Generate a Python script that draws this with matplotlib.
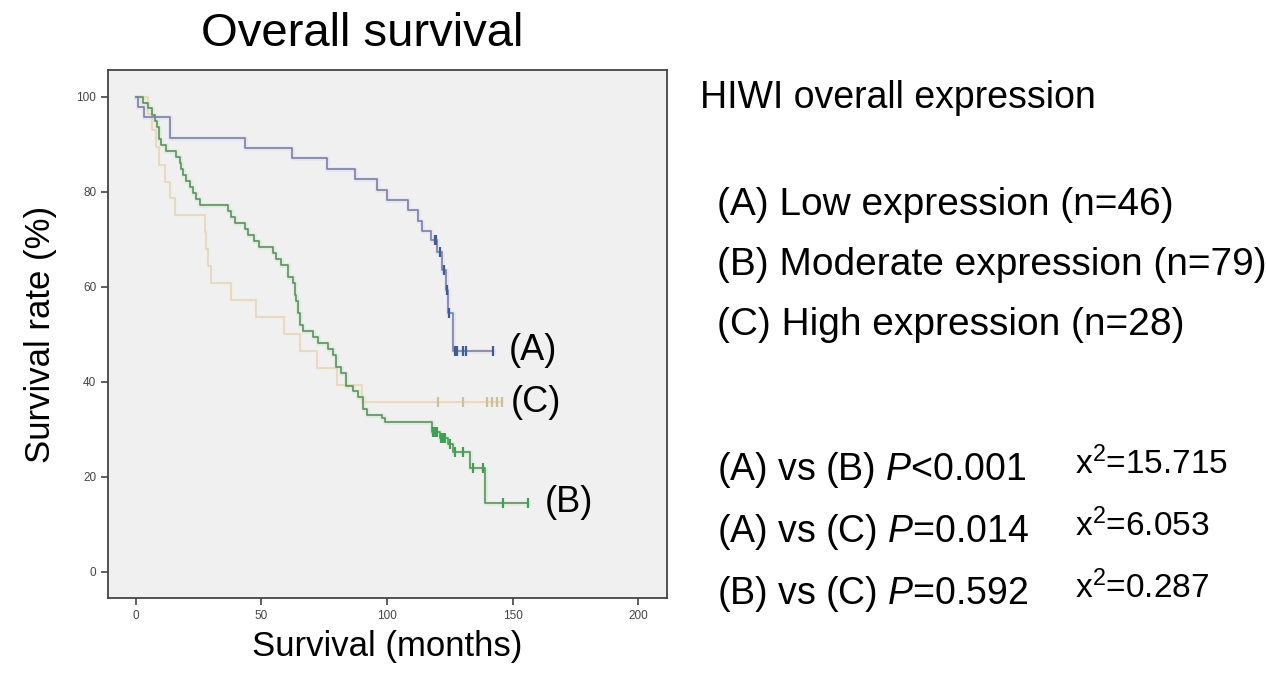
import numpy as np
import matplotlib
matplotlib.use("Agg")
import matplotlib.pyplot as plt

plt.rcParams['font.family'] = ['Liberation Sans', 'DejaVu Sans']
plt.rcParams['mathtext.fontset'] = 'custom'
plt.rcParams['mathtext.rm'] = 'Liberation Sans'
plt.rcParams['mathtext.it'] = 'Liberation Sans:italic'

# Kaplan-Meier steps (months, survival %)
a_times = [0, 1, 3.5, 13.5, 43.4, 62.4, 76, 87.3, 95.9, 100, 108.5, 112.5, 114,
           117.5, 120, 122, 123.5, 124.4, 126.2]
a_surv = [100, 97.8, 95.7, 91.3, 89.1, 87.0, 84.8, 82.6, 80.4, 78.3, 76.1, 73.9, 71.7,
          69.8, 67.4, 63.5, 59.3, 54.4, 46.5]
a_cens = [119, 119.6, 121, 122.7, 123.8, 124.9, 127, 128, 130.2, 131.3, 142.3]

b_times = [0, 3, 5, 6.5, 7.6, 8.5, 9.5, 10.2, 12.2, 16.2, 17.5, 18, 18.8, 20, 21.5, 23,
           24.2, 25.5, 36.8, 38.1, 39.4, 43.4, 44.8, 47, 49.1, 54.7, 56, 58, 60.7, 62.7,
           63.5, 64, 64.7, 65.3, 66.7, 70.6, 72.6, 76.6, 78.6, 79.9, 81.9, 83.9, 86.6,
           88.6, 90.6, 91.9, 97.9, 99.2, 117.8, 121.1, 124.4, 126.4, 133.1, 139.2]
b_surv = [100, 98.7, 97.5, 96.2, 94.9, 93.7, 91.1, 89.9, 88.6, 87.3, 86.1, 84.8, 83.5,
          82.3, 81.0, 79.7, 78.5, 77.2, 75.9, 74.7, 73.4, 72.2, 70.9, 69.6, 68.4, 67.1,
          65.8, 64.6, 62.0, 60.8, 58.2, 56.9, 54.4, 51.9, 50.6, 49.4, 48.1, 46.8, 45.6,
          43.0, 41.8, 39.2, 38.0, 36.7, 34.2, 32.9, 32.3, 31.6, 29.5, 28.1, 27.0, 25.3,
          21.8, 14.5]
b_cens = [118.5, 119.3, 120, 121.5, 122, 122.6, 123.2, 125, 127.1, 130.4, 134.4, 138.4,
          146.3, 156]

c_times = [0, 5, 6.5, 8, 9.5, 11.5, 13.5, 15.5, 27.5, 28.2, 29, 30, 38.1, 48.1, 59,
           65.3, 72, 80, 90]
c_surv = [100, 96.4, 92.9, 89.3, 85.7, 82.1, 78.6, 75, 71.4, 67.9, 64.3, 60.7, 57.1,
          53.6, 50, 46.4, 42.9, 39.3, 35.7]
c_cens = [120.4, 130.4, 139.7, 141.7, 143.7, 145.7]

groups = ["(A)", "(B)", "(C)"]
legend_lines = ["(A) Low expression (n=46)",
                "(B) Moderate expression (n=79)",
                "(C) High expression (n=28)"]
stat_pairs = ["(A) vs (B)", "(A) vs (C)", "(B) vs (C)"]
p_values = ["<0.001", "=0.014", "=0.592"]
chi2_values = ["15.715", "6.053", "0.287"]


def km_curve(ax, times, surv, cens, line_col, halo_col, mark_col):
    t = list(times) + [max(cens)]
    s = list(surv) + [surv[-1]]
    ax.step(t, s, where='post', color=halo_col, lw=3.5, alpha=0.5, zorder=2)
    ax.step(t, s, where='post', color=line_col, lw=1.2, zorder=3)
    idx = np.searchsorted(times, cens, side='right') - 1
    ax.plot(cens, np.array(surv)[idx], ls='none', marker='|', ms=7, mew=1.6,
            color=mark_col, zorder=4)
    return max(cens), surv[-1]


fig = plt.figure(figsize=(12.66, 6.74), dpi=100)
ax = fig.add_axes([0.0853, 0.1128, 0.4416, 0.7834])
ax.set_facecolor('#f0f0f0')

c_end = km_curve(ax, c_times, c_surv, c_cens, '#e3d6bd', '#f5eedf', '#cdbf98')
b_end = km_curve(ax, b_times, b_surv, b_cens, '#5f8f62', '#c9ecc8', '#3f9f52')
a_end = km_curve(ax, a_times, a_surv, a_cens, '#7d80a8', '#dcdcee', '#3d5d9a')

ax.set_xlim(-11, 211.5)
ax.set_ylim(-5.5, 105.6)
ax.set_xticks([0, 50, 100, 150, 200])
ax.set_yticks([0, 20, 40, 60, 80, 100])
ax.tick_params(labelsize=8.5, length=5, width=1.2, colors='#444444')
for sp in ax.spines.values():
    sp.set_color('#444444')
    sp.set_linewidth(1.3)

fig.text(362 / 1266, 1 - 34 / 674, "Overall survival", fontsize=34, ha='center', va='center')
ax.set_ylabel("Survival rate (%)", fontsize=25, labelpad=14)
ax.set_xlabel("Survival (months)", fontsize=25, labelpad=6)

# curve labels, right of each curve's end
label_offsets = [6, 7, 3.5]
for name, (xe, ye), off in zip(groups, [a_end, b_end, c_end], label_offsets):
    ax.text(xe + off, ye, name, fontsize=26, va='center')

# right-hand annotation
fig.text(700 / 1266, 1 - 98 / 674, "HIWI overall expression", fontsize=27, va='center')
for i, line in enumerate(legend_lines):
    fig.text(717 / 1266, 1 - (205 + 60 * i) / 674, line, fontsize=28, va='center')
for i in range(3):
    y = 1 - (470 + 62 * i) / 674
    fig.text(717 / 1266, y, stat_pairs[i] + " $\\it{P}$" + p_values[i],
             fontsize=27, va='center')
    fig.text(1075 / 1266, y + 6 / 674, "x$^{2}$=" + chi2_values[i],
             fontsize=24, va='center')

fig.savefig("out.png", dpi=100)
